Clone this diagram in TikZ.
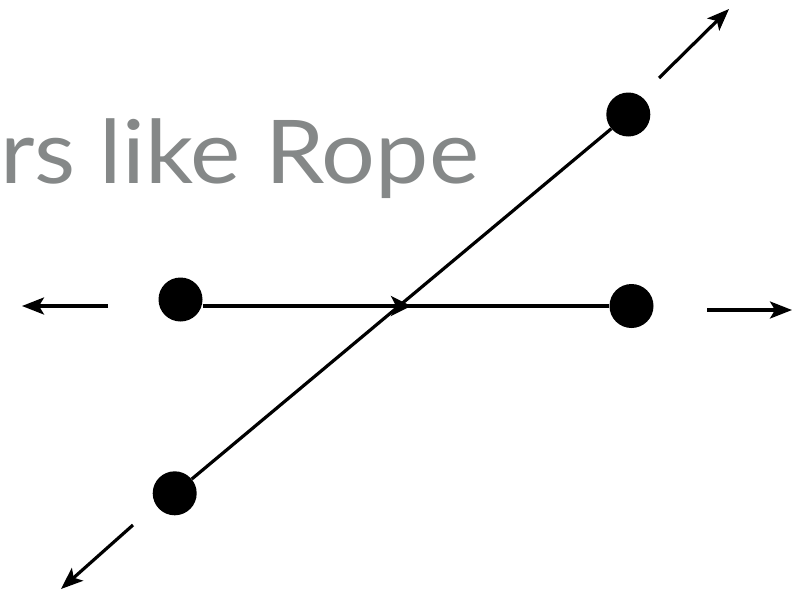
\documentclass[tikz,border=0pt]{standalone}
\usepackage{fontspec}
\setmainfont{Lato}
\usetikzlibrary{arrows.meta}
\definecolor{titlegray}{HTML}{858888}
\begin{document}
\begin{tikzpicture}[x=1pt,y=-1pt,
  dot/.style={circle,fill=black,minimum size=44pt,inner sep=0pt},
  conn/.style={line width=3.2pt},
  arr/.style={line width=3.2pt,-{Stealth[length=22pt,width=17pt,inset=5pt]}}]
\useasboundingbox (0,0) rectangle (793,592);
\node[anchor=base west,text=titlegray,inner sep=0pt,font=\fontsize{88}{100}\selectfont] (title) at (0,183) {\scalebox{1.08}[1]{rs like Rope}};
\node[dot] (a) at (180.5,299.5) {};
\node[dot] (b) at (631.5,306) {};
\node[dot] (c) at (628.3,114.5) {};
\node[dot] (d) at (174.7,493.3) {};
\coordinate (m) at (411,306);
\coordinate (mb) at (385,306);
\draw[conn] (d) -- (c);
\draw[conn] (a.east |- b.center) -- (b);
\draw[conn,-{Stealth[length=20pt,width=20pt,inset=5pt]}] (mb) -- (m);
\coordinate (ls) at (108,306);
\coordinate (le) at (22,306);
\coordinate (rs) at (707,310);
\coordinate (re) at (792,310);
\coordinate (ts) at (659,78);
\coordinate (te) at (729,9);
\coordinate (bs) at (133,525);
\coordinate (be) at (61,589);
\draw[arr] (ls) -- (le);
\draw[arr] (rs) -- (re);
\draw[arr] (ts) -- (te);
\draw[arr] (bs) -- (be);
\end{tikzpicture}
\end{document}
